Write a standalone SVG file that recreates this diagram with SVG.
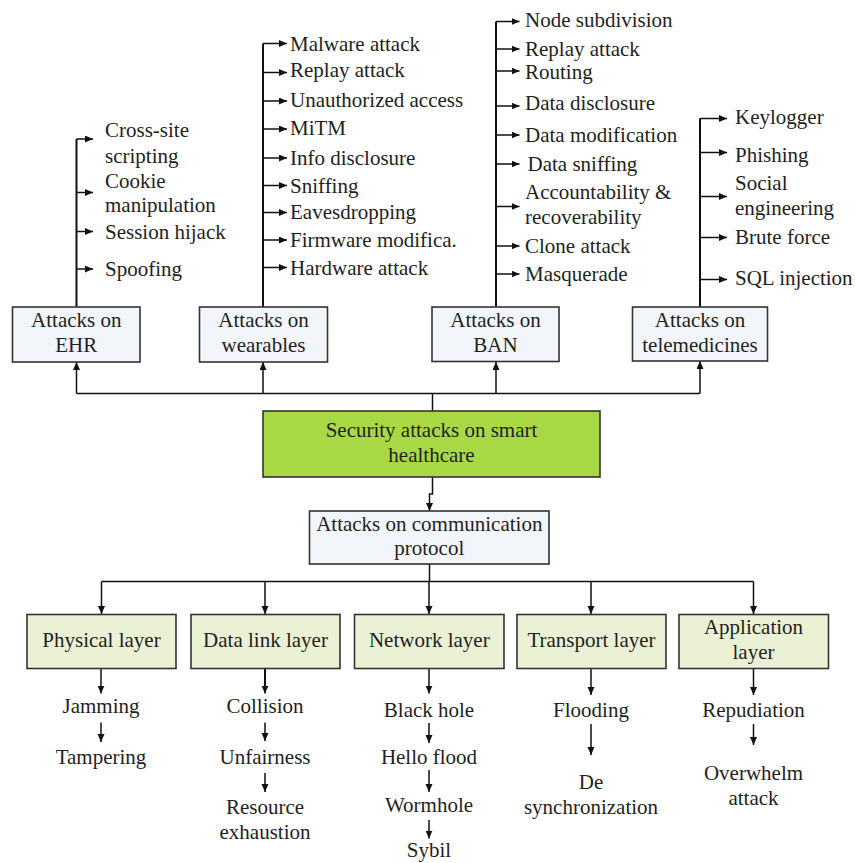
<svg xmlns="http://www.w3.org/2000/svg" width="855" height="863" viewBox="0 0 855 863" font-family="'Liberation Serif', 'Times New Roman', 'DejaVu Serif', serif" font-size="21">
<style>
text{fill:#231f20}
.c{text-anchor:middle}
.box{fill:#f2f5fa;stroke:#333;stroke-width:1.6}
.lay{fill:#ebf1d5;stroke:#333;stroke-width:1.6}
.root{fill:#a8d843;stroke:#333;stroke-width:1.6}
.ln{fill:none;stroke:#111;stroke-width:1.5}
.tr{fill:none;stroke:#111;stroke-width:2}
.ar{fill:none;stroke:#111;stroke-width:1.5;marker-end:url(#ah)}
</style>
<defs>
<marker id="ah" markerUnits="userSpaceOnUse" markerWidth="9" markerHeight="8" refX="8" refY="3.5" orient="auto">
<path d="M0,0 L8,3.5 L0,7 z" fill="#111"/>
</marker>
</defs>
<g id="connectors">
<path class="ln" d="M76.5,393.5 H700"/>
<path class="ln" d="M432.5,411 V393.5"/>
<path class="ar" d="M76.5,393.5 V362"/>
<path class="ar" d="M263,393.5 V362"/>
<path class="ar" d="M496,393.5 V362"/>
<path class="ar" d="M700,393.5 V361"/>
<path class="ar" d="M432.5,477 V494 H429.5 V511"/>
<path class="tr" d="M76.5,307 V139"/>
<path class="ar" d="M76.5,139 H93"/>
<path class="ar" d="M76.5,192.5 H93"/>
<path class="ar" d="M76.5,231.5 H93"/>
<path class="ar" d="M76.5,269 H93"/>
<path class="tr" d="M263,307 V43.5"/>
<path class="ar" d="M263,43.5 H287"/>
<path class="ar" d="M263,72.5 H287"/>
<path class="ar" d="M263,101 H287"/>
<path class="ar" d="M263,129 H287"/>
<path class="ar" d="M263,158 H287"/>
<path class="ar" d="M263,185.5 H287"/>
<path class="ar" d="M263,212.5 H287"/>
<path class="ar" d="M263,240 H287"/>
<path class="ar" d="M263,267.5 H287"/>
<path class="tr" d="M496,307 V21.5"/>
<path class="ar" d="M496,21.5 H519.5"/>
<path class="ar" d="M496,49 H519.5"/>
<path class="ar" d="M496,71 H519.5"/>
<path class="ar" d="M496,106 H519.5"/>
<path class="ar" d="M496,135 H519.5"/>
<path class="ar" d="M496,164 H519.5"/>
<path class="ar" d="M496,206.5 H519.5"/>
<path class="ar" d="M496,246 H519.5"/>
<path class="ar" d="M496,274 H519.5"/>
<path class="tr" d="M700,307 V118.5"/>
<path class="ar" d="M700,118.5 H727"/>
<path class="ar" d="M700,152.5 H727"/>
<path class="ar" d="M700,196.5 H727"/>
<path class="ar" d="M700,237.5 H727"/>
<path class="ar" d="M700,279.5 H727"/>
<path class="ln" d="M429.5,564 V581.5"/>
<path class="ln" d="M101.5,581.5 H753.5"/>
<path class="ar" d="M101.5,581.5 V614"/>
<path class="ar" d="M265,581.5 V614"/>
<path class="ar" d="M429,581.5 V614"/>
<path class="ar" d="M591,581.5 V614"/>
<path class="ar" d="M753.5,581.5 V614"/>
<path class="ar" d="M101,668 V693.5"/>
<path class="ar" d="M101,722.5 V742"/>
<path class="tr" d="M265,668 V686"/>
<path class="ar" d="M265,680 V693.5"/>
<path class="ar" d="M265,722.5 V741"/>
<path class="ar" d="M265,773 V792"/>
<path class="ar" d="M429,668 V693.5"/>
<path class="ar" d="M429,723 V743"/>
<path class="ar" d="M429,770 V792"/>
<path class="ar" d="M429,820 V838.5"/>
<path class="ar" d="M591,668 V695"/>
<path class="ar" d="M591,724 V755"/>
<path class="ar" d="M753.5,668 V695"/>
<path class="ar" d="M753.5,724 V745"/>
</g>
<g id="root">
<rect class="root" x="263" y="411" width="337" height="66"/>
<text class="c" x="431.5" y="437">Security attacks on smart</text>
<text class="c" x="431.5" y="462">healthcare</text>
</g>
<g id="ehr">
<rect class="box" x="12.5" y="307" width="127.5" height="55"/>
<text class="c" x="76.3" y="327">Attacks on</text>
<text class="c" x="76.3" y="352">EHR</text>
</g>
<g id="ehr-items">
<text x="105" y="136.5">Cross-site</text>
<text x="105" y="162.5">scripting</text>
<text x="105" y="187.5">Cookie</text>
<text x="105" y="212">manipulation</text>
<text x="105" y="238.5">Session hijack</text>
<text x="105" y="275.5">Spoofing</text>
</g>
<g id="wearables">
<rect class="box" x="199.5" y="307" width="128" height="55"/>
<text class="c" x="263.5" y="327">Attacks on</text>
<text class="c" x="263.5" y="352">wearables</text>
</g>
<g id="wearables-items">
<text x="290" y="50.5">Malware attack</text>
<text x="290" y="77">Replay attack</text>
<text x="290" y="107">Unauthorized access</text>
<text x="290" y="135">MiTM</text>
<text x="290" y="165">Info disclosure</text>
<text x="290" y="192.5">Sniffing</text>
<text x="290" y="218.5">Eavesdropping</text>
<text x="290" y="246.5">Firmware modifica.</text>
<text x="290" y="274.5">Hardware attack</text>
</g>
<g id="ban">
<rect class="box" x="432" y="307" width="127" height="54.5"/>
<text class="c" x="495.5" y="327">Attacks on</text>
<text class="c" x="495.5" y="352">BAN</text>
</g>
<g id="ban-items">
<text x="525" y="27">Node subdivision</text>
<text x="525" y="55.5">Replay attack</text>
<text x="525" y="79">Routing</text>
<text x="525" y="110">Data disclosure</text>
<text x="525" y="141.5">Data modification</text>
<text x="527.5" y="170.5">Data sniffing</text>
<text x="525" y="198.5">Accountability &amp;</text>
<text x="525" y="223.5">recoverability</text>
<text x="525" y="252.5">Clone attack</text>
<text x="525" y="280.5">Masquerade</text>
</g>
<g id="telemedicines">
<rect class="box" x="632.5" y="307" width="135" height="54"/>
<text class="c" x="700" y="327">Attacks on</text>
<text class="c" x="700" y="352">telemedicines</text>
</g>
<g id="telemedicines-items">
<text x="735" y="123.5">Keylogger</text>
<text x="735" y="161.5">Phishing</text>
<text x="735" y="190">Social</text>
<text x="735" y="215">engineering</text>
<text x="735" y="243.5">Brute force</text>
<text x="735" y="285">SQL injection</text>
</g>
<g id="comm">
<rect class="box" x="309.5" y="511" width="239.5" height="53"/>
<text class="c" x="429.3" y="530.5">Attacks on communication</text>
<text class="c" x="429.3" y="555">protocol</text>
</g>
<g id="physical">
<rect class="lay" x="27" y="614.5" width="149" height="54"/>
<text class="c" x="101.5" y="647">Physical layer</text>
<text class="c" x="101" y="713">Jamming</text>
<text class="c" x="101" y="763.5">Tampering</text>
</g>
<g id="datalink">
<rect class="lay" x="191" y="614.5" width="149" height="54"/>
<text class="c" x="265.5" y="647">Data link layer</text>
<text class="c" x="265" y="713">Collision</text>
<text class="c" x="265" y="763.5">Unfairness</text>
<text class="c" x="265" y="813.5">Resource</text>
<text class="c" x="265" y="838.5">exhaustion</text>
</g>
<g id="network">
<rect class="lay" x="354.5" y="614.5" width="149.5" height="54"/>
<text class="c" x="429.3" y="647">Network layer</text>
<text class="c" x="429" y="717">Black hole</text>
<text class="c" x="429" y="763.5">Hello flood</text>
<text class="c" x="429" y="812">Wormhole</text>
<text class="c" x="429" y="857">Sybil</text>
</g>
<g id="transport">
<rect class="lay" x="517" y="614.5" width="149" height="54"/>
<text class="c" x="591.5" y="647">Transport layer</text>
<text class="c" x="591" y="717">Flooding</text>
<text class="c" x="591" y="788.5">De</text>
<text class="c" x="591" y="813.5">synchronization</text>
</g>
<g id="application">
<rect class="lay" x="679" y="614.5" width="149.5" height="54"/>
<text class="c" x="753.5" y="633.5">Application</text>
<text class="c" x="753.5" y="658.5">layer</text>
<text class="c" x="753.5" y="717">Repudiation</text>
<text class="c" x="753.5" y="780">Overwhelm</text>
<text class="c" x="753.5" y="805">attack</text>
</g>
</svg>
